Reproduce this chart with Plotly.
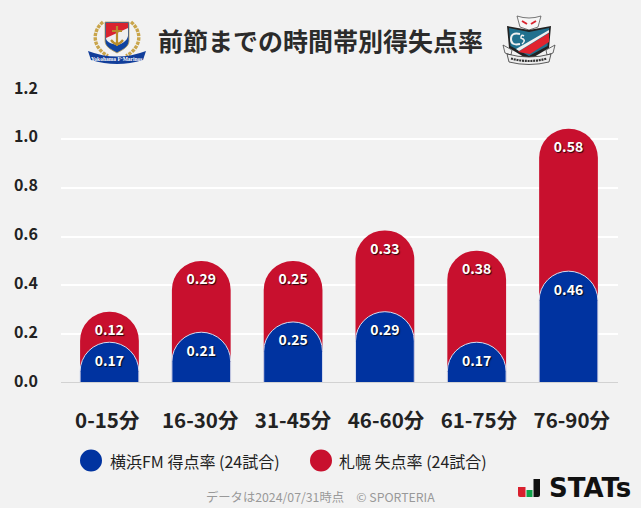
import base64
import plotly.graph_objects as go

categories = ["0-15分", "16-30分", "31-45分", "46-60分", "61-75分", "76-90分"]
fm_scored = [0.167, 0.208, 0.25, 0.292, 0.167, 0.458]
sapporo_conceded = [0.125, 0.292, 0.25, 0.333, 0.375, 0.583]
y_ticks = [0.0, 0.2, 0.4, 0.6, 0.8, 1.0, 1.2]

FONT = "Noto Sans CJK JP"
BLUE = "#0033A0"
RED = "#C8102E"
W, H = 641, 508
L, R, T, B = 61, 618, 90, 383


def px(x):
    return (x - L) / (R - L)


def py(y):
    return (B - y) / (B - T)


def sx(w):
    return w / (R - L)


def sy(h):
    return h / (B - T)


def uri(svg):
    return "data:image/svg+xml;base64," + base64.b64encode(svg.encode()).decode()


stack_top = [round(a + b, 3) for a, b in zip(fm_scored, sapporo_conceded)]
SHADOW = "1px 1px 1px rgba(0,0,0,0.8)"

fig = go.Figure()
fig.add_bar(
    x=categories, y=stack_top, marker=dict(color=RED, line=dict(width=0)),
    text=[f"{v:.2f}" for v in sapporo_conceded], textposition="inside", insidetextanchor="end",
    textfont=dict(family=FONT, size=14, color="white", weight=700, shadow=SHADOW),
    textangle=0, hoverinfo="skip", showlegend=False, cliponaxis=False,
)
fig.add_bar(
    x=categories, y=fm_scored, yaxis="y2", marker=dict(color=BLUE, line=dict(width=1, color="#D5DCEE")),
    text=[f"{v:.2f}" for v in fm_scored], textposition="inside", insidetextanchor="end",
    textfont=dict(family=FONT, size=14, color="white", weight=700, shadow=SHADOW),
    textangle=0, hoverinfo="skip", showlegend=False, cliponaxis=False,
)
# empty carrier trace so the separately spaced category labels are drawn
fig.add_scatter(x=categories, y=[0] * len(categories), xaxis="x2", mode="none",
                hoverinfo="skip", showlegend=False)

fm_logo = """<svg xmlns='http://www.w3.org/2000/svg' viewBox='87 19 60 46'>
<path d='M103 22 C91 32 93 48 108 56' fill='none' stroke='#C9A54B' stroke-width='3.4' stroke-dasharray='3.4 1'/>
<path d='M131 22 C143 32 141 48 126 56' fill='none' stroke='#C9A54B' stroke-width='3.4' stroke-dasharray='3.4 1'/>
<path d='M105 22 H129 V41 C129 47 122 50 117 53 C112 50 105 47 105 41 Z' fill='#1144A0' stroke='#B9A05A' stroke-width='0.8'/>
<path d='M106 23 H128 V29 L106 39 Z' fill='#D9242F'/>
<path d='M106 38 L128 28 V36 C127 41 122 44 117 45 C112 44 106 42 106 38Z' fill='#EFEFEF'/>
<path d='M117 26 V46 M112 31 H122 M111 40 Q117 48 123 40' stroke='#B98D2C' stroke-width='2.2' fill='none'/>
<path d='M88 51 Q117 62 146 51 L143 60 Q117 68 91 60 Z' fill='#123E9A'/>
</svg>"""

cs_logo = """<svg xmlns='http://www.w3.org/2000/svg' viewBox='500 12 60 58'>
<path d='M517 16 Q529 20 541 16 L538 27 L529 30 L520 27 Z' fill='#F6F6F6' stroke='#555' stroke-width='0.8'/>
<path d='M522 21 L527 24 M536 21 L531 24' stroke='#D9242F' stroke-width='2'/>
<path d='M507 26 L529 30 L551 26 L549 48 L529 60 L509 48 Z' fill='#222'/>
<path d='M509 28 L529 32 L549 28 L547.5 46 L529 56 L510.5 46 Z' fill='#21708E'/>
<path d='M518 52 L549 33 V42 L530 54 Z' fill='#E1242F'/>
<path d='M516 49 L549 30 V32.5 L519 51 Z' fill='#F0F0F0'/>
<path d='M520 34 Q511 32 511 39 Q511 46 520 44' fill='none' stroke='#F0F0F0' stroke-width='2'/>
<path d='M524 36 Q521 34 521 38 Q527 40 522 44' fill='none' stroke='#F0F0F0' stroke-width='1.6'/>
<path d='M503 45 L512 50 L511 55 L505 53 Z M555 45 L546 50 L547 55 L553 53 Z' fill='#F2F2F2' stroke='#444' stroke-width='0.8'/>
<path d='M507 54 Q529 60 551 54 L549 62 Q529 67 509 62 Z' fill='#EDEDED' stroke='#333' stroke-width='0.8'/>
<path d='M511 58.5 Q529 63.5 547 58.5' fill='none' stroke='#333' stroke-width='2.2' stroke-dasharray='2 0.8'/>
</svg>"""

stats_mark = """<svg xmlns='http://www.w3.org/2000/svg' viewBox='0 0 22 20'>
<path d='M0 9 H7.5 V19 H2 Q0 19 0 17 Z' fill='#D9202E'/>
<path d='M8.5 12 H14.5 V19 H8.5 Z' fill='#0FA34B'/>
<path d='M15.5 1 H22 V17 Q22 19 20 19 H15.5 Z' fill='#111'/>
</svg>"""

images = [
    dict(source=uri(fm_logo), x=px(87), y=py(19), sizex=sx(60), sizey=sy(46), sizing="stretch",
         xanchor="left", yanchor="top", xref="paper", yref="paper", layer="above"),
    dict(source=uri(cs_logo), x=px(500), y=py(12), sizex=sx(60), sizey=sy(58), sizing="stretch",
         xanchor="left", yanchor="top", xref="paper", yref="paper", layer="above"),
    dict(source=uri(stats_mark), x=px(518), y=py(478), sizex=sx(22), sizey=sy(20), sizing="stretch",
         xanchor="left", yanchor="top", xref="paper", yref="paper", layer="above"),
]


def note(text, x, y, size, color, weight=400, family=FONT, anchor="left"):
    return dict(text=text, x=px(x), y=py(y), xref="paper", yref="paper", showarrow=False,
                xanchor=anchor, yanchor="middle",
                font=dict(family=family, size=size, color=color, weight=weight))


annotations = [
    note("前節までの時間帯別得失点率", 320.5, 40, 25, "#2b2b2b", 700, anchor="center"),
    note("横浜FM 得点率 (24試合)", 108, 461, 16, "#222"),
    note("札幌 失点率 (24試合)", 337, 461, 16, "#222"),
    note("データは2024/07/31時点　© SPORTERIA", 320.5, 497, 12.3, "#999", anchor="center"),
    note("STATs", 547, 488, 26, "#111", 700, family="DejaVu Sans"),
    note("Yokohama F·Marinos", 117, 58.5, 5.5, "white", 700, family="Liberation Serif", anchor="center"),
]

shapes = [
    dict(type="circle", xref="paper", yref="paper", x0=px(80), x1=px(102), y0=py(471.5), y1=py(449.5),
         fillcolor=BLUE, line=dict(width=0)),
    dict(type="circle", xref="paper", yref="paper", x0=px(310), x1=px(332), y0=py(471.5), y1=py(449.5),
         fillcolor=RED, line=dict(width=0)),
    dict(type="line", xref="paper", yref="y", x0=0, x1=1, y0=0, y1=0, layer="above",
         line=dict(color="#D2D2D2", width=2)),
]

fig.update_layout(
    width=W, height=H, autosize=False,
    paper_bgcolor="#F2F2F2", plot_bgcolor="#F2F2F2",
    barmode="overlay", bargap=0.36, barcornerradius="50%",
    margin=dict(l=L, r=W - R, t=T, b=H - B, pad=0),
    images=images, annotations=annotations, shapes=shapes,
    font=dict(family=FONT), hovermode=False,
    xaxis=dict(type="category", range=[-0.528, 5.539], showgrid=False, zeroline=False, showline=False,
               ticks="", showticklabels=False),
    xaxis2=dict(type="category", overlaying="x", side="bottom", anchor="y", range=[-0.498, 5.497],
                showgrid=False, zeroline=False, showline=False, ticks="",
                tickfont=dict(family=FONT, size=20.5, color="#222", weight=700), ticklabelstandoff=23),
    yaxis=dict(range=[0, 1.2], tickvals=y_ticks, ticktext=[f"{v:.1f}" for v in y_ticks], showgrid=True,
               gridcolor="white", gridwidth=2, zeroline=False,
               showline=False, ticks="", tickfont=dict(family=FONT, size=16, color="#222", weight=700),
               ticklabelstandoff=22, ticklabelshift=-2),
    yaxis2=dict(range=[0, 1.2], overlaying="y", visible=False, showgrid=False, zeroline=False),
)
fig.write_html("out.html", config=dict(displayModeBar=False),
               post_script="document.body.style.margin='0';document.body.style.background='#F2F2F2';")
